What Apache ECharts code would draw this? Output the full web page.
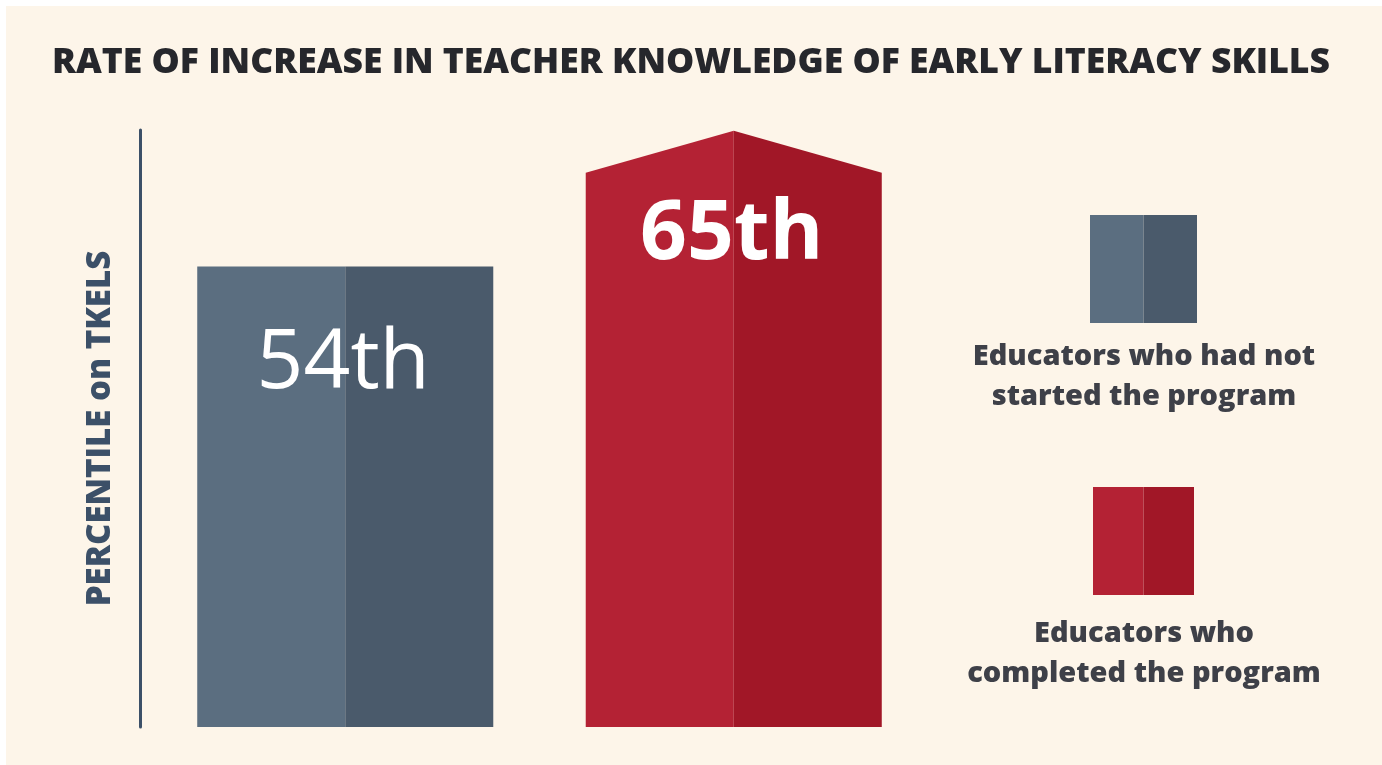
<!DOCTYPE html>
<html>
<head>
<meta charset="utf-8">
<title>Teacher knowledge of early literacy skills</title>
<script src="https://cdn.jsdelivr.net/npm/echarts@6/dist/echarts.min.js"></script>
<style>
  html, body { margin: 0; padding: 0; background: #ffffff; }
  #main { width: 1382px; height: 765px; }
</style>
</head>
<body>
<div id="main"></div>
<script>
// data
var groups = ['Educators who had not\nstarted the program', 'Educators who\ncompleted the program'];
var percentiles = [54, 65];
var valueLabels = ['54th', '65th'];

// two-tone colours per bar: [light half, dark half]
var tones = [['#5b6e80', '#4a5a6b'], ['#b42234', '#a11727']];

var myChart = echarts.init(document.getElementById('main'));

var seriesData = [];
for (var i = 0; i < groups.length; i++) {
    seriesData.push([i, percentiles[i]]);
}

function renderBar(params, api) {
    var idx = api.value(0);
    var top = api.coord([idx, api.value(1)]);
    var base = api.coord([idx, 0]);
    var bw = api.size([1, 0])[0] * 0.762;
    var x0 = top[0] - bw / 2, xm = top[0], x1 = top[0] + bw / 2;
    // the higher bar gets an arrow-like peak
    var peak = idx === groups.length - 1 ? 42 : 0;
    var c = tones[idx];
    return {
        type: 'group',
        children: [
            {
                type: 'polygon',
                shape: { points: [[x0, base[1]], [x0, top[1]], [xm, top[1] - peak], [xm, base[1]]] },
                style: { fill: c[0] }
            },
            {
                type: 'polygon',
                shape: { points: [[xm, base[1]], [xm, top[1] - peak], [x1, top[1]], [x1, base[1]]] },
                style: { fill: c[1] }
            },
            {
                type: 'text',
                style: {
                    text: valueLabels[idx],
                    x: xm - 2,
                    y: top[1] + (peak ? 63 : 98),
                    align: 'center',
                    verticalAlign: 'middle',
                    fill: '#ffffff',
                    fontFamily: 'Open Sans',
                    fontWeight: peak ? 'bold' : 'normal',
                    fontSize: 82
                }
            }
        ]
    };
}

// legend drawn as graphic blocks: square above, text below
var legendGraphics = [];
var legendPos = [{ x: 1090, y: 215, w: 107, textY: 377 }, { x: 1093, y: 487, w: 101, textY: 654 }];
for (var j = 0; j < groups.length; j++) {
    var p = legendPos[j];
    legendGraphics.push({
        type: 'rect', left: p.x, top: p.y,
        shape: { width: p.w / 2, height: 108 },
        style: { fill: tones[j][0] }
    });
    legendGraphics.push({
        type: 'rect', left: p.x + p.w / 2, top: p.y,
        shape: { width: p.w / 2, height: 108 },
        style: { fill: tones[j][1] }
    });
    legendGraphics.push({
        type: 'text', x: 1144, y: p.textY,
        style: {
            text: groups[j],
            align: 'center',
            verticalAlign: 'middle',
            fill: '#3e4048',
            fontFamily: 'Open Sans',
            fontWeight: 800,
            fontSize: 29,
            lineHeight: 40
        }
    });
}

var option = {
    backgroundColor: '#ffffff',
    title: {
        text: 'RATE OF INCREASE IN TEACHER KNOWLEDGE OF EARLY LITERACY SKILLS',
        left: 'center',
        top: 40,
        textStyle: {
            fontFamily: 'Open Sans',
            fontWeight: 800,
            fontSize: 35.5,
            color: '#26272c'
        }
    },
    graphic: [
        {
            type: 'rect', left: 6, top: 6, z: -10,
            shape: { width: 1400, height: 800 },
            style: { fill: '#fdf5e9' }
        }
    ].concat(legendGraphics),
    grid: {
        left: 151,
        width: 777,
        top: 130,
        bottom: 38
    },
    xAxis: {
        type: 'category',
        data: groups,
        axisLine: { show: false },
        axisTick: { show: false },
        axisLabel: { show: false }
    },
    yAxis: {
        type: 'value',
        min: 0,
        max: 70,
        offset: 11,
        name: 'PERCENTILE on TKELS',
        nameLocation: 'middle',
        nameRotate: 90,
        nameGap: 23,
        nameTextStyle: {
            fontFamily: 'Open Sans',
            fontWeight: 800,
            fontSize: 33,
            color: '#3c5068'
        },
        axisLine: { show: true, lineStyle: { color: '#3c5068', width: 3 } },
        axisTick: { show: false },
        axisLabel: { show: false },
        splitLine: { show: false }
    },
    series: [
        {
            type: 'custom',
            renderItem: renderBar,
            data: seriesData
        }
    ]
};

myChart.setOption(option);
</script>
</body>
</html>
